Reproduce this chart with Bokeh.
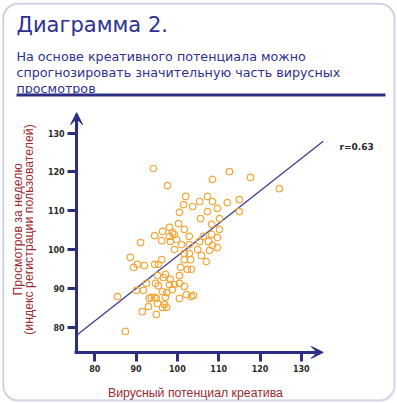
import math
from bokeh.plotting import figure
from bokeh.models import (Range1d, LinearAxis, FixedTicker, Label, BoxAnnotation,
                          Arrow, VeeHead)
from bokeh.embed import file_html
from bokeh.resources import INLINE

# ---------------- data ----------------
creative_potential = [
    94.2, 97.6, 108.5, 112.6, 117.7, 124.7,
    102.0, 107.3, 105.4, 108.5, 101.5, 103.7, 112.1, 115.0,
    100.5, 107.3, 109.7, 115.0, 105.6, 110.2,
    100.3, 108.3, 98.1, 101.7, 110.2,
    96.4, 94.5, 98.8, 98.1, 99.3, 96.2, 98.3, 99.8, 102.9, 106.3, 108.3, 109.7,
    107.5, 105.4, 102.9, 101.0, 91.1, 108.5, 109.7,
    99.3, 104.9, 107.8, 101.7, 102.9, 105.8, 96.2, 95.4, 101.7, 103.2, 107.0, 88.6, 89.4, 90.3, 92.0, 94.5,
    100.8, 102.4, 103.4, 95.2, 96.6, 97.1, 98.3, 100.5,
    94.7, 95.4, 98.1, 99.3, 100.5, 101.7, 92.5,
    98.8, 96.4, 97.4, 102.2, 103.4, 103.9, 90.1, 91.8,
    93.7, 94.5, 94.9, 97.1, 100.5, 93.2, 85.5,
    95.2, 96.9, 96.4, 97.4, 93.0, 91.5, 94.9, 87.4,
]
weekly_views = [
    120.9, 116.5, 118.1, 120.1, 118.6, 115.7,
    113.7, 113.7, 112.4, 112.4, 111.6, 111.1, 112.1, 112.9,
    109.6, 109.8, 110.6, 109.8, 108.0, 108.0,
    106.7, 106.5, 105.7, 105.2, 105.2,
    104.7, 103.6, 104.4, 103.4, 103.9, 102.3, 102.1, 102.6, 103.4, 103.4, 103.9, 103.1,
    102.1, 102.1, 101.3, 101.3, 101.8, 101.1, 100.5,
    100.0, 100.0, 99.8, 99.0, 99.0, 98.5, 97.4, 96.2, 97.4, 97.4, 96.9, 98.0, 95.4, 96.2, 95.9, 96.2,
    95.4, 94.9, 94.9, 93.3, 92.8, 93.6, 92.3, 93.3,
    91.3, 90.7, 91.0, 91.0, 91.3, 90.5, 91.3,
    89.7, 89.2, 88.9, 88.4, 87.9, 88.2, 89.5, 89.5,
    87.7, 87.7, 87.4, 87.7, 87.4, 87.4, 87.9,
    86.1, 85.9, 85.1, 85.1, 85.3, 84.0, 83.3, 78.9,
]
trend_x = [75.6, 135.3]
trend_y = [77.9, 127.9]
x_ticks = [80, 90, 100, 110, 120, 130]
y_ticks = [80, 90, 100, 110, 120, 130]
r_text = "r=0.63"
title_text = "Диаграмма 2."
subtitle_lines = [
    "На основе креативного потенциала можно",
    "спрогнозировать значительную часть вирусных",
    "просмотров",
]
x_label_text = "Вирусный потенциал креатива"
y_label_lines = ["Просмотров за неделю", "(индекс регистрации пользователей)"]

# ---------------- styling ----------------
W, H = 397, 403
NAVY = "#2c2e83"
TITLE_C = "#2e3190"
RED = "#9b2a30"
ORANGE = "#f3a73a"
FRAME = "#9292c8"
AX_X0, AX_Y0, AX_END = 75.6, 73.5, 135.3

p = figure(width=W, height=H, output_backend="svg", toolbar_location=None,
           x_range=Range1d(57.17, 153.29), y_range=Range1d(60.33, 164.2),
           x_axis_location=None, y_axis_location=None, min_border=0)
p.outline_line_color = None
p.background_fill_color = "white"
p.border_fill_color = "white"
for g in p.grid:
    g.visible = False

def style_axis(ax):
    ax.axis_line_color = NAVY
    ax.axis_line_width = 3
    ax.major_tick_line_color = NAVY
    ax.major_tick_line_width = 3
    ax.major_tick_out = 9
    ax.major_tick_in = 0
    ax.minor_tick_line_color = None
    ax.major_label_text_font = "DejaVu Sans"
    ax.major_label_text_font_style = "bold"
    ax.major_label_text_font_size = "8px"
    ax.major_label_text_color = "#2a2a2a"

yax = LinearAxis(fixed_location=AX_X0, bounds=(AX_Y0 - 0.4, 133.5),
                 ticker=FixedTicker(ticks=y_ticks))
style_axis(yax)
yax.major_label_standoff = 3
p.add_layout(yax, "left")

xax = LinearAxis(fixed_location=AX_Y0, bounds=(AX_X0 - 0.4, 133.5),
                 ticker=FixedTicker(ticks=x_ticks))
style_axis(xax)
xax.major_label_standoff = 4
p.add_layout(xax, "below")

p.add_layout(Arrow(end=VeeHead(size=12, fill_color=NAVY, line_color=NAVY, line_width=1),
                   x_start=AX_X0, y_start=131, x_end=AX_X0, y_end=AX_END,
                   line_color=NAVY, line_width=3))
p.add_layout(Arrow(end=VeeHead(size=12, fill_color=NAVY, line_color=NAVY, line_width=1),
                   x_start=131, y_start=AX_Y0, x_end=AX_END, y_end=AX_Y0,
                   line_color=NAVY, line_width=3))

p.line(trend_x, trend_y, line_color="#3d3b8e", line_width=1.3)
p.scatter(creative_potential, weekly_views, marker="circle", size=6.5,
          fill_color=None, line_color=ORANGE, line_width=1.2)

def lab(x, y, text, **kw):
    p.add_layout(Label(x=x, y=y, x_units="screen", y_units="screen", text=text, **kw))

def box(l, r, b, t, **kw):
    p.add_layout(BoxAnnotation(left=l, right=r, bottom=b, top=t, left_units="screen",
                               right_units="screen", bottom_units="screen",
                               top_units="screen", **kw))

# rounded frame with a slightly heavier bottom-right edge
box(2.5, 393.5, 3.5, 400, fill_color=None, fill_alpha=0, line_color=FRAME,
    line_width=1.5, border_radius=15)
box(3, 394.5, 2.5, 399.5, fill_color=None, fill_alpha=0, line_color=FRAME,
    line_width=1.5, border_radius=15)

lab(16, 379, title_text, text_font="DejaVu Sans", text_font_size="21px",
    text_color=TITLE_C, text_baseline="alphabetic")
for txt, yy in zip(subtitle_lines, [347, 331, 315]):
    lab(16, yy, txt, text_font="DejaVu Sans", text_font_size="12.7px",
        text_color=TITLE_C, text_baseline="alphabetic")
box(16, 385, 307, 310, fill_color=NAVY, fill_alpha=1, line_color=None)

lab(195, 11, x_label_text, text_font="Liberation Sans", text_font_size="12.3px",
    text_color=RED, text_align="center", text_baseline="alphabetic")
for txt, xx in zip(y_label_lines, [17, 28]):
    lab(xx, 174, txt, angle=math.pi / 2, text_font="Liberation Sans",
        text_font_size="12.3px", text_color=RED, text_align="center",
        text_baseline="middle")

lab(339, 257, r_text, text_font="DejaVu Sans", text_font_style="bold",
    text_font_size="9px", text_color="#2a2a2a", text_baseline="middle")

open("out.html", "w").write(file_html(p, INLINE))
